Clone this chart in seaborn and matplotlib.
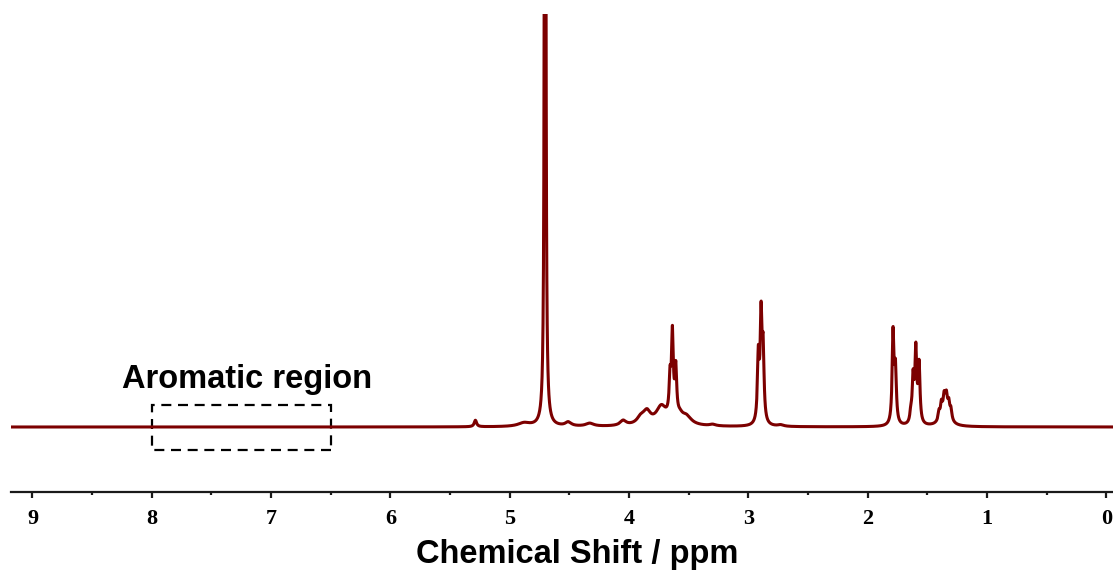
import numpy as np
import pandas as pd
import matplotlib
matplotlib.use("Agg")
import matplotlib.pyplot as plt
from matplotlib.patches import Rectangle
import seaborn as sns

# ---- peak table (ppm, height in px above baseline, half width ppm)
peak_ppm = [4.704, 5.288, 4.88, 4.51, 4.33, 4.05,
            3.90, 3.85, 3.73, 3.70, 3.575, 3.52, 3.30,
            3.657, 3.637, 3.609,
            2.917, 2.894, 2.877, 2.73,
            1.788, 1.768,
            1.639, 1.620, 1.597, 1.570,
            1.403, 1.383, 1.360, 1.341, 1.321, 1.303, 1.350]
peak_height = [3000, 6.5, 3.5, 4, 3, 5,
               7, 11, 16, 3, 6, 8, 1.5,
               36, 82, 48,
               65, 102, 68, 1.5,
               91, 52,
               10, 44, 72, 58,
               8.5, 13, 13, 13, 12.5, 10, 19]
peak_width = [0.0033, 0.012, 0.06, 0.03, 0.04, 0.03,
              0.04, 0.035, 0.05, 0.15, 0.03, 0.05, 0.03,
              0.009, 0.009, 0.009,
              0.009, 0.009, 0.009, 0.03,
              0.009, 0.009,
              0.009, 0.009, 0.009, 0.009,
              0.009, 0.009, 0.009, 0.009, 0.009, 0.009, 0.035]

tick_values = [9, 8, 7, 6, 5, 4, 3, 2, 1, 0]
tick_labels = ["9", "8", "7", "6", "5", "4", "3", "2", "1", "0"]
region_label = "Aromatic region"
region_ppm = [8.0, 6.5]
x_label = "Chemical Shift / ppm"

# ---- build spectrum (sum of Lorentzian lines)
ppm = np.arange(-0.1, 9.3, 0.0005)
intensity = np.zeros_like(ppm)
for c, h, w in zip(peak_ppm, peak_height, peak_width):
    intensity += h * w**2 / ((ppm - c) ** 2 + w**2)
df = pd.DataFrame({"ppm": ppm, "intensity": intensity})

sns.set_style("white")
fig = plt.figure(figsize=(11.13, 5.76), dpi=100)
ax = fig.add_axes([11 / 1113, (576 - 492) / 576, 1 - 11 / 1113, (492 - 14) / 576])

sns.lineplot(data=df, x="ppm", y="intensity", ax=ax, color="#7c0000",
             linewidth=2.2, sort=False, estimator=None)

ax.set_xlim(9.18, -0.055)
ax.set_ylim(-65, 413)

for s in ["top", "left", "right"]:
    ax.spines[s].set_visible(False)
ax.spines["bottom"].set_linewidth(1.6)
ax.spines["bottom"].set_color("#1a1a1a")
ax.set_yticks([])
ax.set_ylabel("")
ax.set_xlabel("")
ax.set_xticks(tick_values)
ax.set_xticklabels(tick_labels, fontfamily="Liberation Serif", fontweight="bold",
                   fontsize=16, color="black")
ax.set_xticks(np.arange(0.5, 9.5, 1.0), minor=True)
ax.tick_params(axis="x", which="both", bottom=True, top=False)
ax.tick_params(axis="x", which="major", direction="out", length=4, width=1.6, pad=8,
               color="#1a1a1a")
ax.tick_params(axis="x", which="minor", direction="out", length=2, width=1.6,
               color="#1a1a1a")

# dashed aromatic region box
rect = Rectangle((region_ppm[1], -23), region_ppm[0] - region_ppm[1], 45, fill=False,
                 edgecolor="black", linewidth=1.6, linestyle=(0, (4.5, 3)))
ax.add_patch(rect)
ax.text(np.mean(region_ppm) - 0.05, 38.7, region_label, ha="center", va="baseline",
        fontfamily="Liberation Sans", fontweight="bold", fontsize=23.5, color="black")

fig.text(577.5 / 1113, (576 - 563.3) / 576, x_label, ha="center", va="baseline",
         fontfamily="Liberation Sans", fontweight="bold", fontsize=23.5, color="black")

fig.savefig("out.png", dpi=100)
